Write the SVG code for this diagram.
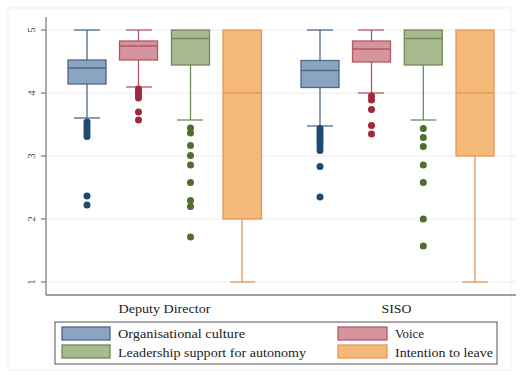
<svg xmlns="http://www.w3.org/2000/svg" width="523" height="378" viewBox="0 0 523 378">
<defs>
<style>
.grid{stroke:#ebebeb;stroke-width:1}
.axis{stroke:#808080;stroke-width:1.3;fill:none}
.tick{font-family:"Liberation Serif","DejaVu Serif",serif;font-size:11px;fill:#444}
.lbl{font-family:"Liberation Serif","DejaVu Serif",serif;font-size:13px;fill:#222}
.b-blue{fill:#8ba4c1;stroke:#4b6889;stroke-width:1.3}
.b-red{fill:#d5959d;stroke:#b25866;stroke-width:1.3}
.b-green{fill:#a8ba8e;stroke:#6f8b56;stroke-width:1.3}
.b-orange{fill:#f4b878;stroke:#e49a56;stroke-width:1.3}
.w-blue{stroke:#4b6889;stroke-width:1.3}
.w-red{stroke:#b25866;stroke-width:1.3}
.w-green{stroke:#6f8b56;stroke-width:1.3}
.w-orange{stroke:#e49a56;stroke-width:1.3}
.o-blue{fill:#1f4a75}
.o-red{fill:#9e2a3c}
.o-green{fill:#4f6e2f}
</style>
</defs>
<rect x="0" y="0" width="523" height="378" fill="#ffffff"/>
<rect x="8" y="8" width="503" height="362" fill="none" stroke="#f0f0f0" stroke-width="1"/>
<g id="grid">
<line class="grid" x1="46" y1="30" x2="516" y2="30"/>
<line class="grid" x1="46" y1="93" x2="516" y2="93"/>
<line class="grid" x1="46" y1="156" x2="516" y2="156"/>
<line class="grid" x1="46" y1="219" x2="516" y2="219"/>
<line class="grid" x1="46" y1="282" x2="516" y2="282"/>
</g>
<g id="axes">
<line class="axis" x1="46" y1="17" x2="46" y2="295"/>
<line class="axis" x1="46" y1="295" x2="516" y2="295"/>
<line class="axis" x1="41" y1="30" x2="46" y2="30"/>
<line class="axis" x1="41" y1="93" x2="46" y2="93"/>
<line class="axis" x1="41" y1="156" x2="46" y2="156"/>
<line class="axis" x1="41" y1="219" x2="46" y2="219"/>
<line class="axis" x1="41" y1="282" x2="46" y2="282"/>
<text class="tick" text-anchor="middle" transform="translate(35,30) rotate(-90)">5</text>
<text class="tick" text-anchor="middle" transform="translate(35,93) rotate(-90)">4</text>
<text class="tick" text-anchor="middle" transform="translate(35,156) rotate(-90)">3</text>
<text class="tick" text-anchor="middle" transform="translate(35,219) rotate(-90)">2</text>
<text class="tick" text-anchor="middle" transform="translate(35,282) rotate(-90)">1</text>
<text class="lbl" x="164.5" y="313" text-anchor="middle" textLength="92" lengthAdjust="spacingAndGlyphs">Deputy Director</text>
<text class="lbl" x="396.5" y="313" text-anchor="middle" textLength="30" lengthAdjust="spacingAndGlyphs">SISO</text>
</g>
<g id="connectors">
<line class="w-blue" x1="87" y1="30" x2="87" y2="60"/>
<line class="w-blue" x1="74" y1="30" x2="100" y2="30"/>
<line class="w-blue" x1="87" y1="84" x2="87" y2="118"/>
<line class="w-blue" x1="74" y1="118" x2="100" y2="118"/>
<line class="w-red" x1="138.5" y1="30" x2="138.5" y2="41"/>
<line class="w-red" x1="126" y1="30" x2="152" y2="30"/>
<line class="w-red" x1="138.5" y1="60" x2="138.5" y2="87"/>
<line class="w-red" x1="126" y1="87" x2="152" y2="87"/>
<line class="w-green" x1="190.5" y1="65" x2="190.5" y2="120"/>
<line class="w-green" x1="177" y1="120" x2="203" y2="120"/>
<line class="w-orange" x1="242" y1="219" x2="242" y2="282"/>
<line class="w-orange" x1="230" y1="282" x2="255" y2="282"/>
<line class="w-blue" x1="320" y1="30" x2="320" y2="60"/>
<line class="w-blue" x1="307" y1="30" x2="333" y2="30"/>
<line class="w-blue" x1="320" y1="87" x2="320" y2="126"/>
<line class="w-blue" x1="307" y1="126" x2="333" y2="126"/>
<line class="w-red" x1="371.5" y1="30" x2="371.5" y2="41"/>
<line class="w-red" x1="358" y1="30" x2="384" y2="30"/>
<line class="w-red" x1="371.5" y1="62" x2="371.5" y2="93"/>
<line class="w-red" x1="358" y1="93" x2="384" y2="93"/>
<line class="w-green" x1="423.3" y1="65" x2="423.3" y2="120"/>
<line class="w-green" x1="410.5" y1="120" x2="436.5" y2="120"/>
<line class="w-orange" x1="475" y1="156" x2="475" y2="282"/>
<line class="w-orange" x1="462" y1="282" x2="488" y2="282"/>
</g>
<g id="dd-culture">
<rect class="b-blue" x="68" y="60" width="38" height="24"/>
<line class="w-blue" x1="68" y1="68" x2="106" y2="68"/>
<g class="o-blue"><circle cx="87" cy="122" r="3.5"/><circle cx="87" cy="125" r="3.5"/><circle cx="87" cy="128" r="3.5"/><circle cx="87" cy="131" r="3.5"/><circle cx="87" cy="134" r="3.5"/><circle cx="87" cy="136.5" r="3.5"/><circle cx="87" cy="196" r="3.5"/><circle cx="87" cy="205" r="3.5"/></g>
</g>
<g id="dd-voice">
<rect class="b-red" x="119.5" y="41" width="38" height="19"/>
<line class="w-red" x1="119.5" y1="46" x2="157.5" y2="46"/>
<g class="o-red"><circle cx="138.5" cy="89" r="3.5"/><circle cx="138.5" cy="92" r="3.5"/><circle cx="138.5" cy="95" r="3.5"/><circle cx="138.5" cy="98" r="3.5"/><circle cx="138.5" cy="112" r="3.5"/><circle cx="138.5" cy="120" r="3.5"/></g>
</g>
<g id="dd-leadership">
<rect class="b-green" x="171.5" y="30" width="38" height="35"/>
<line class="w-green" x1="171.5" y1="38.5" x2="209.5" y2="38.5"/>
<g class="o-green"><circle cx="190.5" cy="128" r="3.5"/><circle cx="190.5" cy="133" r="3.5"/><circle cx="190.5" cy="145.5" r="3.5"/><circle cx="190.5" cy="155.5" r="3.5"/><circle cx="190.5" cy="165" r="3.5"/><circle cx="190.5" cy="182.5" r="3.5"/><circle cx="190.5" cy="200.5" r="3.5"/><circle cx="190.5" cy="206.5" r="3.5"/><circle cx="190.5" cy="237" r="3.5"/></g>
</g>
<g id="dd-intention">
<rect class="b-orange" x="223" y="30" width="38.5" height="189"/>
<line class="w-orange" x1="223" y1="93" x2="261.5" y2="93"/>
</g>
<g id="siso-culture">
<rect class="b-blue" x="301" y="60.5" width="38" height="27"/>
<line class="w-blue" x1="301" y1="70.5" x2="339" y2="70.5"/>
<g class="o-blue"><circle cx="320" cy="128.5" r="3.5"/><circle cx="320" cy="131.5" r="3.5"/><circle cx="320" cy="134.5" r="3.5"/><circle cx="320" cy="137.5" r="3.5"/><circle cx="320" cy="140.5" r="3.5"/><circle cx="320" cy="143.5" r="3.5"/><circle cx="320" cy="147" r="3.5"/><circle cx="320" cy="150.5" r="3.5"/><circle cx="320" cy="166.5" r="3.5"/><circle cx="320" cy="197" r="3.5"/></g>
</g>
<g id="siso-voice">
<rect class="b-red" x="352.5" y="41" width="38" height="21"/>
<line class="w-red" x1="352.5" y1="49" x2="390.5" y2="49"/>
<g class="o-red"><circle cx="371.5" cy="96" r="3.5"/><circle cx="371.5" cy="100" r="3.5"/><circle cx="371.5" cy="109.5" r="3.5"/><circle cx="371.5" cy="125.5" r="3.5"/><circle cx="371.5" cy="134" r="3.5"/></g>
</g>
<g id="siso-leadership">
<rect class="b-green" x="404.3" y="30" width="38" height="35"/>
<line class="w-green" x1="404.3" y1="38.5" x2="442.3" y2="38.5"/>
<g class="o-green"><circle cx="423.3" cy="128.5" r="3.5"/><circle cx="423.3" cy="137.5" r="3.5"/><circle cx="423.3" cy="146.5" r="3.5"/><circle cx="423.3" cy="165" r="3.5"/><circle cx="423.3" cy="182.5" r="3.5"/><circle cx="423.3" cy="219" r="3.5"/><circle cx="423.3" cy="246" r="3.5"/></g>
</g>
<g id="siso-intention">
<rect class="b-orange" x="456" y="30" width="38" height="126"/>
<line class="w-orange" x1="456" y1="93" x2="494" y2="93"/>
</g>
<g id="legend">
<rect x="55" y="322" width="442" height="42" fill="#ffffff" stroke="#555555" stroke-width="1"/>
<rect class="b-blue" x="62" y="327" width="48" height="13"/>
<rect class="b-green" x="62" y="345" width="48" height="13"/>
<rect class="b-red" x="338" y="327" width="49" height="13"/>
<rect class="b-orange" x="338" y="345" width="49" height="13"/>
<text class="lbl" x="118" y="338" textLength="127" lengthAdjust="spacingAndGlyphs">Organisational culture</text>
<text class="lbl" x="118" y="357" textLength="188" lengthAdjust="spacingAndGlyphs">Leadership support for autonomy</text>
<text class="lbl" x="395" y="338" textLength="29" lengthAdjust="spacingAndGlyphs">Voice</text>
<text class="lbl" x="395" y="357" textLength="98" lengthAdjust="spacingAndGlyphs">Intention to leave</text>
</g>
</svg>
